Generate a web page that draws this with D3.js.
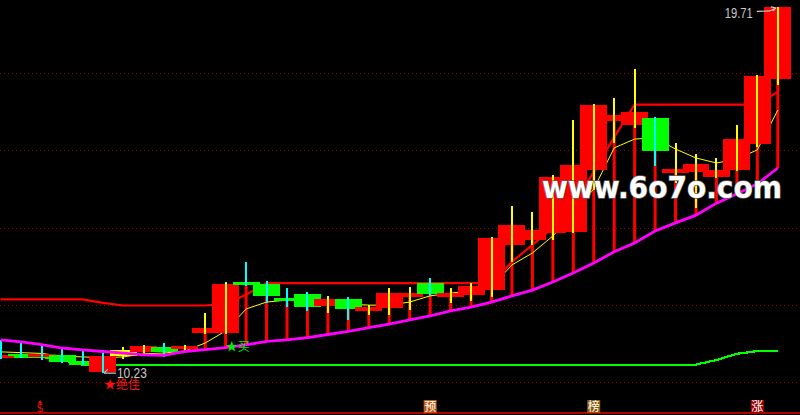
<!DOCTYPE html>
<html><head><meta charset="utf-8">
<script src="https://cdn.jsdelivr.net/npm/d3@7"></script>
<style>
html,body{margin:0;padding:0;background:#000;}
svg{display:block;}
</style></head><body>
<svg id="c" width="800" height="415"></svg>
<script>
// ---- data (prices) ----
const opens  = [10.62,10.73,10.65,10.70,10.54,10.26,10.67,10.78,10.91,10.85,11.27,11.27,12.59,12.54,12.18,12.28,11.97,12.15,11.84,11.92,12.20,12.57,12.20,12.25,12.38,13.55,13.68,13.86,13.88,15.49,16.76,16.65,16.84,15.41,15.44,15.31,15.49,16.16,17.85];
const closes = [10.70,10.67,10.73,10.52,10.45,10.67,10.83,10.93,10.78,10.93,11.40,12.54,12.52,12.23,12.11,11.94,12.15,11.89,11.95,12.31,12.30,12.28,12.30,12.49,13.73,14.07,13.94,15.31,15.62,17.17,16.91,16.99,15.98,15.52,15.64,15.49,16.29,17.92,19.71];
const highs  = [11.09,11.04,10.96,10.91,10.85,10.78,10.91,10.96,11.01,10.96,11.79,12.59,13.11,12.62,12.43,12.33,12.23,12.20,11.99,12.43,12.46,12.69,12.43,12.56,13.75,14.56,14.40,15.36,16.78,17.20,17.35,18.10,16.86,16.19,15.90,15.80,16.65,17.95,19.71];
const lows   = [10.60,10.62,10.57,10.49,10.44,10.23,10.60,10.75,10.65,10.78,11.24,11.24,12.49,12.05,11.94,11.84,11.79,11.61,11.74,11.74,11.86,12.23,12.05,12.10,12.20,13.11,13.55,13.68,13.86,14.97,16.19,16.58,15.59,15.15,14.51,15.28,15.46,16.08,17.69];
const maLine      = [10.78,10.76,10.74,10.67,10.65,10.63,10.65,10.73,10.75,10.80,11.01,11.32,11.89,12.07,12.12,12.12,12.07,12.02,11.99,11.99,12.07,12.23,12.30,12.36,12.46,13.03,13.34,13.78,14.35,15.00,16.06,16.29,16.32,16.03,15.80,15.67,15.77,16.01,17.04];
const supportLine = [11.09,11.04,10.97,10.88,10.83,10.79,10.75,10.70,10.69,10.79,10.84,10.89,10.96,11.05,11.09,11.15,11.23,11.31,11.41,11.50,11.61,11.71,11.84,11.94,12.07,12.23,12.38,12.59,12.82,13.08,13.37,13.60,13.91,14.12,14.32,14.63,14.87,15.13,15.54];
const stopLine    = [12.14,12.14,12.14,12.14,12.14,12.05,11.98,11.98,11.98,11.98,11.98,12.03,12.26,12.56,12.56,12.56,12.56,12.56,12.56,12.56,12.56,12.56,12.56,12.56,12.56,13.11,13.55,13.99,14.58,15.44,16.34,17.18,17.18,17.18,17.18,17.18,17.18,17.18,17.51];
const bottomLine  = [10.65,10.65,10.65,10.57,10.45,10.45,10.45,10.45,10.45,10.45,10.45,10.45,10.45,10.45,10.45,10.45,10.45,10.45,10.45,10.45,10.45,10.45,10.45,10.45,10.45,10.45,10.45,10.45,10.45,10.45,10.45,10.45,10.45,10.45,10.45,10.57,10.73,10.80,10.81];
const gridPrices  = [10,12,14,16,18];
const yellowBars  = [6];
const bottomMarks = [{idx:2,text:"$"},{idx:21,text:"预"},{idx:29,text:"榜"},{idx:37,text:"涨"}];
const buyMark  = {idx:11, text:"★买"};
const bestMark = {idx:5, text:"★绝佳"};
const lowLabel = "10.23", highLabel = "19.71";
const watermark = "www.6o7o.com";

// ---- drawing ----
const svg = d3.select("#c");
const W = 800, H = 415;
svg.append("rect").attr("width",W).attr("height",H).attr("fill","#000");

const n = closes.length;
const x = d3.scaleLinear().domain([0, n-1]).range([0.7, 777.8]);
const y = d3.scaleLinear().domain([10, 18]).range([382, 73]);
const step = x(1) - x(0);
const bw = step * 1.32;

// grid
svg.append("g").selectAll("line").data(gridPrices).join("line")
  .attr("x1",0).attr("x2",W)
  .attr("y1",d=>Math.round(y(d))+0.5).attr("y2",d=>Math.round(y(d))+0.5)
  .attr("stroke","#a00000").attr("stroke-width",1).attr("stroke-dasharray","1,3");

// bottom frame
svg.append("line").attr("x1",0).attr("x2",W).attr("y1",413).attr("y2",413)
  .attr("stroke","#b00000").attr("stroke-width",2);

const idx = d3.range(n);
const lineGen = arr => d3.line().x(i=>x(i)).y(i=>y(arr[i]))(idx);

// green bottom line
svg.append("path").attr("d",lineGen(bottomLine)).attr("fill","none")
  .attr("stroke","#00ff00").attr("stroke-width",2.2).attr("shape-rendering","crispEdges");

// red support bars
svg.append("g").selectAll("rect").data(idx.filter(i=>Math.min(opens[i],closes[i])>supportLine[i])).join("rect")
  .attr("x",i=>x(i)-1.5).attr("width",3)
  .attr("y",i=>y(Math.min(opens[i],closes[i])))
  .attr("height",i=>y(supportLine[i])-y(Math.min(opens[i],closes[i])))
  .attr("fill","#ff0000");

// red stop line
svg.append("path").attr("d",lineGen(stopLine)).attr("fill","none")
  .attr("stroke","#ff0000").attr("stroke-width",2.2);

// yellow MA
svg.append("path").attr("d",lineGen(maLine)).attr("fill","none")
  .attr("stroke","#ffff00").attr("stroke-width",1);

// boxes
svg.append("g").selectAll("rect").data(idx).join("rect")
  .attr("x",i=>x(i)-bw/2).attr("width",bw)
  .attr("y",i=>y(Math.max(opens[i],closes[i])))
  .attr("height",i=>Math.max(1.5, Math.abs(y(opens[i])-y(closes[i]))))
  .attr("fill",i=> yellowBars.includes(i) ? "#ffff00" : (closes[i]>=opens[i] ? "#ff0000" : "#00ff00"))
  .attr("shape-rendering","crispEdges");

// wicks
svg.append("g").selectAll("rect").data(idx).join("rect")
  .attr("x",i=>x(i)-1).attr("width",2)
  .attr("y",i=>y(highs[i]))
  .attr("height",i=>y(lows[i])-y(highs[i]))
  .attr("fill",i=> (closes[i]<opens[i] || closes[i]<supportLine[i]) ? "#00ffff" : "#ffff00")
  .attr("shape-rendering","crispEdges");

// magenta support line
svg.append("path").attr("d",lineGen(supportLine)).attr("fill","none")
  .attr("stroke","#ff00ff").attr("stroke-width",2.8);

// signal texts
svg.append("text").attr("x",x(buyMark.idx)).attr("y",351)
  .attr("font-family","Noto Sans CJK SC").attr("font-size",12).attr("fill","#00ee00")
  .text(buyMark.text);
svg.append("text").attr("x",x(bestMark.idx)+1).attr("y",389)
  .attr("font-family","Noto Sans CJK SC").attr("font-size",12).attr("fill","#ff1010")
  .text(bestMark.text);

// low label
const lowI = d3.minIndex(lows), highI = d3.maxIndex(highs);
const ly = y(lows[lowI]);
svg.append("path").attr("d",`M${x(lowI)+1},${ly} L${x(lowI)+13},${ly} M${x(lowI)+1},${ly} L${x(lowI)+5},${ly-4}`)
  .attr("stroke","#c8c8c8").attr("stroke-width",1.2).attr("fill","none");
svg.append("text").attr("x",x(lowI)+14).attr("y",ly+5)
  .attr("font-family","Liberation Sans, Arial").attr("font-size",14).attr("fill","#c8c8c8")
  .attr("textLength",30).attr("lengthAdjust","spacingAndGlyphs").text(lowLabel);

// high label
const hy = y(highs[highI]);
svg.append("text").attr("x",x(highI)-53).attr("y",hy+11)
  .attr("font-family","Liberation Sans, Arial").attr("font-size",15).attr("fill","#c8c8c8")
  .attr("textLength",28).attr("lengthAdjust","spacingAndGlyphs").text(highLabel);
svg.append("path").attr("d",`M${x(highI)-21},${hy+4.5} L${x(highI)-8},${hy+4} L${x(highI)-2},${hy+1} M${x(highI)-2},${hy+1} L${x(highI)-7},${hy} M${x(highI)-2},${hy+1} L${x(highI)-5},${hy+4}`)
  .attr("stroke","#c8c8c8").attr("stroke-width",1.2).attr("fill","none");

// bottom marks
const bm = svg.append("g");
bottomMarks.forEach(m=>{
  const cx = x(m.idx);
  if (m.text === "$") {
    bm.append("path").attr("d",`M${cx-1.5},400 L${cx+1},403.5 L${cx-4},403.5 Z`).attr("fill","#e01010");
    bm.append("text").attr("x",cx-1.5).attr("y",412).attr("text-anchor","middle")
      .attr("font-family","DejaVu Sans").attr("font-size",12).attr("fill","#e01010").text(m.text);
  } else {
    const bg = m.text==="预" ? "#b85a10" : (m.text==="榜" ? "#8a5a10" : "#a00000");
    bm.append("rect").attr("x",cx-6.5).attr("y",400).attr("width",13).attr("height",13).attr("fill",bg);
    bm.append("text").attr("x",cx).attr("y",411).attr("text-anchor","middle")
      .attr("font-family","Noto Sans CJK SC").attr("font-size",12).attr("fill","#ffffff").text(m.text);
  }
});

// watermark
svg.append("text").attr("x",542).attr("y",198)
  .attr("font-family","DejaVu Sans").attr("font-weight","bold").attr("font-size",31)
  .attr("textLength",240).attr("lengthAdjust","spacingAndGlyphs")
  .attr("fill","#ffffff").attr("stroke","#606060").attr("stroke-width",1.5)
  .attr("paint-order","stroke").text(watermark);
</script>
</body></html>
